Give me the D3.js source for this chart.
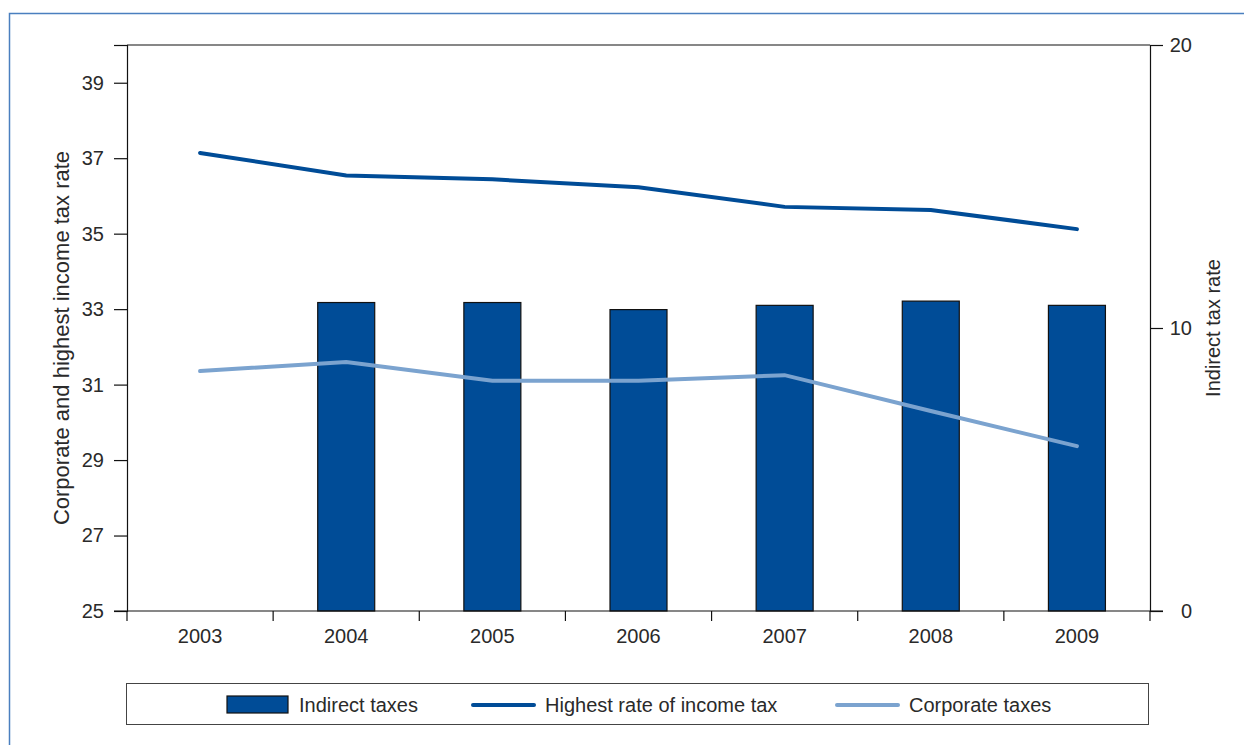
<!DOCTYPE html>
<html>
<head>
<meta charset="utf-8">
<script src="https://cdn.jsdelivr.net/npm/d3@7"></script>
<style>
  html, body { margin: 0; padding: 0; background: #fff; }
  svg { display: block; font-family: "Liberation Sans", Arial, sans-serif; }
  .tick text { font-size: 20px; fill: #2a2a2a; }
</style>
</head>
<body>
<svg id="chart" width="1244" height="745"></svg>
<script>
// Years on the category axis
const years = ["2003", "2004", "2005", "2006", "2007", "2008", "2009"];
// Indirect taxes (right axis); no value for 2003
const indirectTaxes = [null, 10.9, 10.9, 10.65, 10.8, 10.95, 10.8];
// Highest rate of income tax (left axis)
const highestIncomeTax = [37.14, 36.54, 36.44, 36.23, 35.71, 35.63, 35.12];
// Corporate taxes (left axis)
const corporateTaxes = [31.36, 31.6, 31.1, 31.1, 31.25, 30.3, 29.37];
// Tick labels
const leftTicks = [25, 27, 29, 31, 33, 35, 37, 39];
const rightTicks = [0, 10, 20];

const svg = d3.select("#chart");
const plot = { left: 127, right: 1150, top: 45, bottom: 611 };

const darkBlue = "#004c97";
const lightBlue = "#7ba3cf";
const frameBlue = "#4a7fbf";
const textColor = "#2a2a2a";

// Outer frame around the figure
svg.append("path")
  .attr("d", `M9.5,745 V13.5 H1244`)
  .attr("fill", "none")
  .attr("stroke", frameBlue)
  .attr("stroke-width", 1.5);

const x = d3.scaleBand().domain(years).range([plot.left, plot.right]);
const yLeft = d3.scaleLinear().domain([25, 40]).range([plot.bottom, plot.top]);
const yRight = d3.scaleLinear().domain([0, 20]).range([plot.bottom, plot.top]);

// Bars for indirect taxes
const barW = x.bandwidth() * 0.39;
svg.append("g")
  .selectAll("rect")
  .data(years.map((y, i) => ({ year: y, v: indirectTaxes[i] })).filter(d => d.v != null))
  .join("rect")
  .attr("x", d => x(d.year) + (x.bandwidth() - barW) / 2)
  .attr("y", d => yRight(d.v))
  .attr("width", barW)
  .attr("height", d => yRight(0) - yRight(d.v))
  .attr("fill", darkBlue)
  .attr("stroke", "#111")
  .attr("stroke-width", 1.2);

// Plot frame: top edge
svg.append("line")
  .attr("x1", plot.left).attr("x2", plot.right)
  .attr("y1", plot.top).attr("y2", plot.top)
  .attr("stroke", "#111").attr("stroke-width", 1.2);

// Left axis
const leftAxis = d3.axisLeft(yLeft)
  .tickValues([...leftTicks, 40])
  .tickFormat(d => leftTicks.includes(d) ? d : "")
  .tickSize(13).tickPadding(10);
const gl = svg.append("g").attr("transform", `translate(${plot.left},0)`).call(leftAxis);
gl.select(".domain").attr("stroke", "#111").attr("stroke-width", 1.2);
gl.selectAll(".tick line").attr("stroke", "#111").attr("stroke-width", 1.2);

// Right axis
const rightAxis = d3.axisRight(yRight)
  .tickValues(rightTicks)
  .tickSize(13).tickPadding(6);
const gr = svg.append("g").attr("transform", `translate(${plot.right},0)`).call(rightAxis);
gr.select(".domain").attr("stroke", "#111").attr("stroke-width", 1.2);
gr.selectAll(".tick line").attr("stroke", "#111").attr("stroke-width", 1.2);
gr.selectAll(".tick text").attr("text-anchor", "end").attr("x", 42);

// Bottom axis: ticks at category boundaries, labels centred in each band
const gb = svg.append("g").attr("transform", `translate(0,${plot.bottom})`);
gb.append("line")
  .attr("x1", plot.left - 13).attr("x2", plot.right + 13)
  .attr("stroke", "#111").attr("stroke-width", 1.2);
const bounds = years.map(y => x(y)).concat([plot.right]);
gb.selectAll("line.bt").data(bounds).join("line")
  .attr("class", "bt")
  .attr("x1", d => d).attr("x2", d => d)
  .attr("y1", 0).attr("y2", 10)
  .attr("stroke", "#111").attr("stroke-width", 1.2);
gb.selectAll("text").data(years).join("text")
  .attr("x", d => x(d) + x.bandwidth() / 2)
  .attr("y", 32)
  .attr("text-anchor", "middle")
  .attr("font-size", 20)
  .attr("fill", textColor)
  .text(d => d);

// Lines
const cx = d => x(d) + x.bandwidth() / 2;
const line = d3.line().x(d => cx(d.year)).y(d => yLeft(d.v));

svg.append("path")
  .datum(years.map((y, i) => ({ year: y, v: highestIncomeTax[i] })))
  .attr("d", line)
  .attr("fill", "none")
  .attr("stroke", darkBlue)
  .attr("stroke-width", 4)
  .attr("stroke-linecap", "round");

svg.append("path")
  .datum(years.map((y, i) => ({ year: y, v: corporateTaxes[i] })))
  .attr("d", line)
  .attr("fill", "none")
  .attr("stroke", lightBlue)
  .attr("stroke-width", 4)
  .attr("stroke-linecap", "round");

// Axis titles
svg.append("text")
  .attr("transform", `translate(69,${(plot.top + plot.bottom) / 2 + 10}) rotate(-90)`)
  .attr("text-anchor", "middle")
  .attr("font-size", 22)
  .attr("fill", textColor)
  .text("Corporate and highest income tax rate");

svg.append("text")
  .attr("transform", `translate(1220,${(plot.top + plot.bottom) / 2}) rotate(-90)`)
  .attr("text-anchor", "middle")
  .attr("font-size", 20)
  .attr("fill", textColor)
  .text("Indirect tax rate");

// Legend
const lg = svg.append("g");
lg.append("rect")
  .attr("x", 126.5).attr("y", 683.5)
  .attr("width", 1022).attr("height", 41)
  .attr("fill", "#fff").attr("stroke", "#444").attr("stroke-width", 1);

const legendItems = [
  { label: "Indirect taxes", type: "bar", color: darkBlue, x: 227 },
  { label: "Highest rate of income tax", type: "line", color: darkBlue, x: 473 },
  { label: "Corporate taxes", type: "line", color: lightBlue, x: 837 }
];
const ly = 705;
legendItems.forEach(it => {
  if (it.type === "bar") {
    lg.append("rect")
      .attr("x", it.x).attr("y", ly - 9)
      .attr("width", 61).attr("height", 17)
      .attr("fill", it.color).attr("stroke", "#111").attr("stroke-width", 1.2);
  } else {
    lg.append("line")
      .attr("x1", it.x).attr("x2", it.x + 61)
      .attr("y1", ly).attr("y2", ly)
      .attr("stroke", it.color).attr("stroke-width", 4)
      .attr("stroke-linecap", "round");
  }
  lg.append("text")
    .attr("x", it.x + 72).attr("y", ly + 7)
    .attr("font-size", 20)
    .attr("fill", textColor)
    .text(it.label);
});
</script>
</body>
</html>
